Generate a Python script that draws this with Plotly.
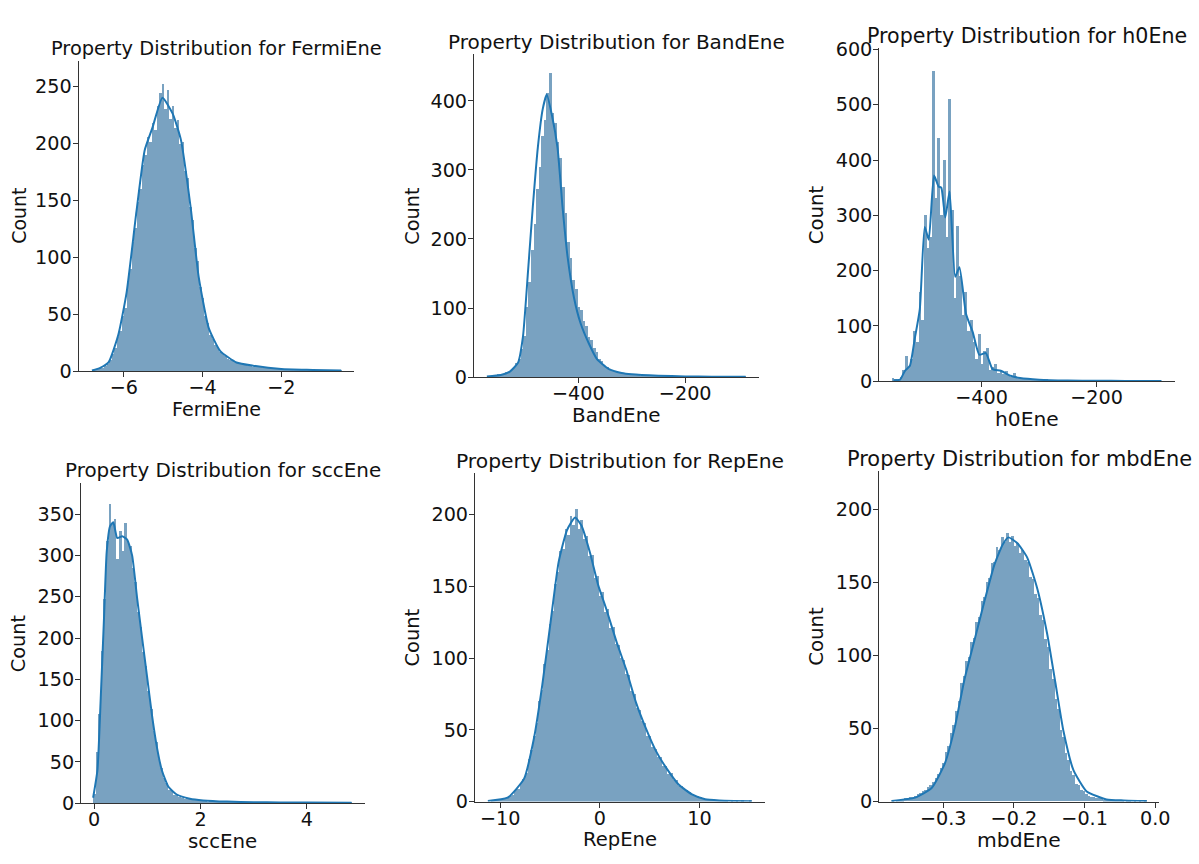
import plotly.graph_objects as go

W, H = 1199, 864

# ---------------- data ----------------
fermi_lo, fermi_hi = -6.83, -0.48
fermi_counts = [1,1,2,3,3,5,7,10,15,21,
                30,36,49,56,78,90,114,126,149,160,
                181,190,206,201,218,212,233,244,252,230,
                247,222,233,214,221,200,201,176,170,144,
                133,108,97,74,65,49,43,32,29,23,
                21,17,15,14,11,10,9,8,8,7,
                6,6,5,6,4,5,4,4,3,3,
                3,3,2,3,2,2,2,2,2,1,
                2,1,2,1,1,1,1,1,1,1,
                1,1,1,0,1,1,0,1,0,1]
fermi_kde_x = [-6.81,-6.6,-6.39,-6.14,-5.93,-5.68,-5.47,-5.27,-5.02,-4.76,-4.55,-4.30,-4.10,-3.84,-3.55,-3.14,-2.72,-2.0,-1.2,-0.48]
fermi_kde_y = [0.6,3,7.7,32,69,140,194,214,240,226,203,143,83,37.6,17.7,7.7,4.9,2,1.2,0.6]

band_lo, band_hi = -571.0, -86.8
band_counts = [1,2,2,3,4,4,5,7,8,11,
               14,21,27,41,60,102,138,184,222,273,
               305,350,372,412,440,382,368,340,318,276,
               238,196,172,141,128,102,97,82,74,58,
               54,43,36,27,23,17,15,11,10,8,
               7,7,6,5,4,4,3,3,3,2,
               2,2,2,1,1,1,1,1,1,1,
               1,1,1,1,1,1,0,1,1,0,
               1,0,1,0,1,0,0,1,0,1,
               0,1,0,0,1,0,0,1,0,1]
band_kde_x = [-571,-545,-528,-512.6,-503.4,-494,-485,-475.7,-466.5,-459,-449.3,-438.8,-429.5,-420.3,-408,-395.7,-380.4,-365,-343.5,-319,-300,-250,-200,-150,-87]
band_kde_y = [1,3,8,21,59,153,247,332,388,409,379,332,247,176,115,78,49,26,12,6,4,2,1,0.6,0.5]

h0_lo, h0_hi = -556.4, -86.9
h0_counts = [5,3,1,8,20,45,25,40,90,70,
             160,110,300,240,260,560,330,440,300,400,
             260,510,310,150,280,190,120,160,90,110,
             70,40,85,30,55,60,20,25,30,15,
             20,12,18,10,8,14,6,5,6,4,
             3,3,2,3,2,2,1,2,1,1,
             1,1,1,1,1,0,1,1,0,1,
             1,0,1,0,1,0,1,0,0,1,
             0,1,0,0,1,0,0,1,0,0,
             1,0,0,1,0,0,1,0,0,1]
h0_kde_x = [-553.4,-542,-533.4,-524.8,-516.2,-507.6,-499,-492,-482.8,-474.8,-470.2,-463.3,-455.8,-446,-438.6,-427,-415.5,-404,-392.6,-381,-366.7,-349.5,-333,-300,-250,-200,-150,-87]
h0_kde_y = [2,3,19,28,78,130,279,256,372,352,350,296,343,189,206,121,89,48,51,22,19,10,6,3,1.5,1,0.6,0.5]

scc_lo, scc_hi = -0.02, 4.84
scc_counts = [12,62,108,185,248,318,362,338,345,296,
              330,306,340,318,312,285,268,232,214,184,
              166,136,115,88,74,54,43,31,25,17,
              15,11,10,8,7,6,7,5,5,4,
              4,3,3,3,2,3,2,2,2,1,
              2,1,1,2,1,1,1,1,1,1,
              1,1,0,1,1,0,1,1,0,1,
              0,1,1,0,1,0,1,0,0,1,
              1,0,1,0,0,1,0,0,1,0,
              0,1,0,0,1,0,0,1,0,1]
scc_kde_x = [-0.019,0.062,0.124,0.186,0.236,0.298,0.360,0.434,0.527,0.621,0.714,0.807,0.900,0.994,1.087,1.180,1.273,1.397,1.553,1.80,2.05,2.5,3.0,3.5,4.0,4.84]
scc_kde_y = [6.7,40,127,225,304,335,340,321,323,319,300,249,201,154,107,68,40,20,10.6,5.5,3.5,2,1.3,1,0.8,0.5]

rep_lo, rep_hi = -11.22, 15.23
rep_counts = [0,1,1,1,1,2,2,3,4,5,
              8,9,13,16,20,30,36,46,55,70,
              78,96,106,124,133,152,160,175,176,190,
              186,199,193,204,190,196,183,185,171,172,
              156,157,143,146,132,134,121,122,110,109,
              100,99,89,88,77,75,65,64,56,55,
              46,46,38,37,31,31,25,25,19,20,
              15,15,11,11,9,8,7,5,4,4,
              3,2,2,1,1,1,1,1,1,1,
              1,0,1,0,1,0,1,0,0,1]
rep_kde_x = [-11.24,-9.26,-7.6,-6.6,-5.78,-4.96,-4.13,-3.30,-2.48,-1.82,-0.99,-0.17,0.66,1.65,2.65,3.64,4.63,5.62,6.62,7.94,9.26,10.58,12,13.5,15.23]
rep_kde_y = [0.4,2.7,16,44.5,81,124,167,189,198,192,173.5,151,134,112,92,69,51,35.5,24,11.7,5,1.6,0.8,0.5,0.3]

mbd_lo, mbd_hi = -0.3734, -0.0122
mbd_counts = [1,0,1,1,1,2,2,3,3,4,
              5,6,7,8,10,11,13,16,19,23,
              26,34,38,47,52,62,69,81,86,96,
              99,109,112,123,126,137,140,150,153,163,
              164,174,172,181,178,184,178,182,175,177,
              170,172,165,164,154,152,142,139,128,124,
              111,106,91,84,70,63,49,44,33,28,
              21,18,12,11,8,7,5,4,3,3,
              2,2,2,1,1,1,1,1,1,1,
              1,0,1,1,0,1,0,1,0,1]
mbd_kde_x = [-0.3724,-0.3398,-0.3164,-0.2978,-0.2838,-0.2698,-0.2558,-0.2418,-0.2278,-0.2160,-0.2076,-0.1950,-0.1810,-0.1670,-0.1530,-0.1414,-0.1298,-0.1158,-0.0970,-0.0690,-0.045,-0.0122]
mbd_kde_y = [0.5,2.7,9.3,26,50.5,84,110.5,137,162,176,181,177,167,146,115,81.6,48,21.6,7,1.5,0.8,0.4]

names = ["FermiEne", "BandEne", "h0Ene", "sccEne", "RepEne", "mbdEne"]
x_ticks = [[-6, -4, -2], [-400, -200], [-400, -200], [0, 2, 4], [-10, 0, 10], [-0.3, -0.2, -0.1, 0.0]]
y_ticks = [[0, 50, 100, 150, 200, 250], [0, 100, 200, 300, 400], [0, 100, 200, 300, 400, 500, 600],
           [0, 50, 100, 150, 200, 250, 300, 350], [0, 50, 100, 150, 200], [0, 50, 100, 150, 200]]

series = [
    (fermi_lo, fermi_hi, fermi_counts, fermi_kde_x, fermi_kde_y),
    (band_lo, band_hi, band_counts, band_kde_x, band_kde_y),
    (h0_lo, h0_hi, h0_counts, h0_kde_x, h0_kde_y),
    (scc_lo, scc_hi, scc_counts, scc_kde_x, scc_kde_y),
    (rep_lo, rep_hi, rep_counts, rep_kde_x, rep_kde_y),
    (mbd_lo, mbd_hi, mbd_counts, mbd_kde_x, mbd_kde_y),
]

# ---------------- layout (pixel boxes of each axes) ----------------
boxes = [  # left, right, top, bottom
    (79.3, 357.0, 52.0, 370.7),
    (478.3, 765.7, 45.0, 376.7),
    (887.3, 1185.7, 39.3, 381.0),
    (81.7, 368.3, 485.0, 814.0),
    (479.3, 771.7, 475.0, 812.3),
    (887.3, 1170.0, 473.3, 812.3),
]
x_ranges = [(-7.15, -0.16), (-595.2, -62.6), (-578.3, -63.8), (-0.248, 5.092), (-12.54, 16.55), (-0.3906, 0.0056)]
y_ranges = [(0, 272.5), (0, 468), (0, 602), (0, 388), (0, 229), (0, 226.3)]
ylabel_x = [19, 416, 824, 19.5, 416, 824]
title_fs = [19.4, 20.0, 20.6, 19.9, 20.3, 20.9]
xlabel_fs = [19.1, 19.9, 20.2, 19.8, 19.6, 20.3]
ylabel_fs = [18.9, 19.3, 19.7, 19.3, 19.4, 19.8]

BAR = "rgb(121,162,193)"
LINE = "#1f77b4"
AX = "#333333"
FONT = "DejaVu Sans"
FS = 19.2
TXT = "#111111"

fig = go.Figure()
annotations = []
layout = dict(width=W, height=H, margin=dict(l=0, r=0, t=0, b=0),
              paper_bgcolor="white", plot_bgcolor="white", showlegend=False,
              bargap=0, font=dict(family=FONT, size=FS, color=TXT))

for k, (lo, hi, counts, kx, ky) in enumerate(series):
    n = len(counts)
    w = (hi - lo) / n
    centers = [lo + w * (i + 0.5) for i in range(n)]
    xa = "x" if k == 0 else f"x{k+1}"
    ya = "y" if k == 0 else f"y{k+1}"
    fig.add_trace(go.Bar(x=centers, y=counts, width=w, xaxis=xa, yaxis=ya,
                         marker=dict(color=BAR, line=dict(width=0))))
    fig.add_trace(go.Scatter(x=kx, y=ky, mode="lines", xaxis=xa, yaxis=ya,
                             line=dict(color=LINE, width=2, shape="spline", smoothing=0.5)))
    l, r, t, b = boxes[k]
    common = dict(showline=True, linecolor=AX, linewidth=1, ticks="outside", ticklen=5,
                  tickwidth=1, tickcolor=AX, showgrid=False, zeroline=False,
                  tickfont=dict(family=FONT, size=FS, color=TXT))
    xkey = "xaxis" if k == 0 else f"xaxis{k+1}"
    ykey = "yaxis" if k == 0 else f"yaxis{k+1}"
    xd = dict(common, domain=[l / W, r / W], range=list(x_ranges[k]), anchor=ya,
              tickvals=x_ticks[k], ticklabelstandoff=-6)
    if k == 5:
        xd["tickformat"] = ".1f"
    layout[xkey] = xd
    layout[ykey] = dict(common, domain=[1 - b / H, 1 - t / H], range=list(y_ranges[k]),
                        anchor=xa, tickvals=y_ticks[k], ticklabelstandoff=-3)
    cx = (l + r) / 2
    annotations.append(dict(text=f"Property Distribution for {names[k]}", x=cx / W, y=1 - (t - 12.3) / H,
                            xref="paper", yref="paper", xanchor="center", yanchor="middle",
                            showarrow=False, font=dict(family=FONT, size=title_fs[k], color=TXT)))
    annotations.append(dict(text=names[k], x=cx / W, y=1 - (b + 39) / H,
                            xref="paper", yref="paper", xanchor="center", yanchor="middle",
                            showarrow=False, font=dict(family=FONT, size=xlabel_fs[k], color=TXT)))
    annotations.append(dict(text="Count", x=ylabel_x[k] / W, y=1 - ((t + b) / 2) / H,
                            xref="paper", yref="paper", xanchor="center", yanchor="middle",
                            textangle=-90, showarrow=False,
                            font=dict(family=FONT, size=ylabel_fs[k], color=TXT)))

layout["annotations"] = annotations
fig.update_layout(**layout)
fig.write_html("out.html")
